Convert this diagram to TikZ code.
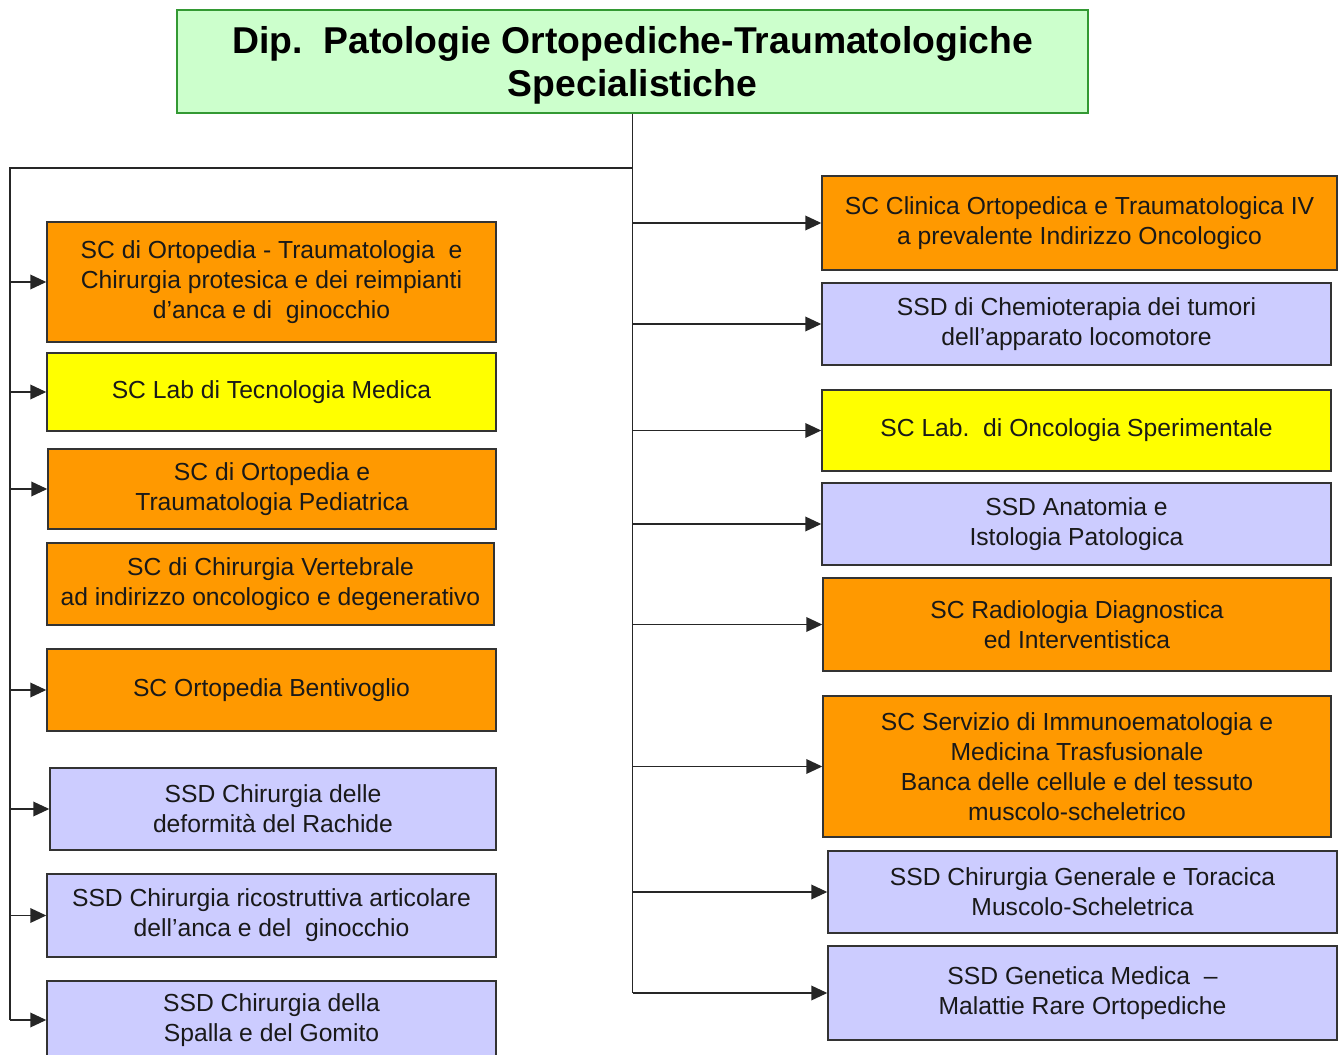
\documentclass[tikz,border=0pt]{standalone}
\usepackage{fontspec}
\setmainfont{Liberation Sans}
\usepackage{xcolor}
\usepackage{tikz}
\usetikzlibrary{arrows.meta}
\definecolor{colHead}{HTML}{CCFFCC}
\definecolor{colHeadLine}{HTML}{339933}
\definecolor{colSC}{HTML}{FF9900}
\definecolor{colLab}{HTML}{FFFF00}
\definecolor{colSSD}{HTML}{CCCCFF}
\newcommand{\px}{0.75pt}

\begin{document}
\begin{tikzpicture}[x=0.75pt, y=-0.75pt,
  head/.style={draw=colHeadLine, line width=1.1pt, fill=colHead, align=center,
               text depth=0pt, font=\bfseries\fontsize{28}{32}\selectfont},
  box/.style={draw=black!80, line width=1.1pt, align=center, inner sep=2pt,
              font=\fontsize{18.5}{22.5}\selectfont, text=black!90},
  sc/.style={box, fill=colSC},
  lab/.style={box, fill=colLab},
  ssd/.style={box, fill=colSSD},
  arr/.style={-{Triangle[length=12pt, width=11pt]}, line width=1.1pt, black!85},
  bus/.style={line width=1.1pt, black!85}
]
  \useasboundingbox (0,0) rectangle (1342,1055);

  \node[head, minimum width=911*\px, minimum height=103*\px] (dip) at (632.5,61.5)
    {Dip.\ \ Patologie Ortopediche-Traumatologiche\\Specialistiche};

  % left column
  \node[sc,  minimum width=449*\px, minimum height=120*\px] (l1) at (271.5,282)
    {SC di Ortopedia - Traumatologia\ \ e\\Chirurgia protesica e dei reimpianti\\d'anca e di\ \ ginocchio};
  \node[lab, minimum width=449*\px, minimum height=78*\px]  (l2) at (271.5,392)
    {SC Lab di Tecnologia Medica};
  \node[sc,  minimum width=448*\px, minimum height=80*\px]  (l3) at (272,489)
    {SC di Ortopedia e\\Traumatologia Pediatrica};
  \node[sc,  minimum width=447*\px, minimum height=82*\px]  (l4) at (270.5,584)
    {SC di Chirurgia Vertebrale\\ad indirizzo oncologico e degenerativo};
  \node[sc,  minimum width=449*\px, minimum height=82*\px]  (l5) at (271.5,690)
    {SC Ortopedia Bentivoglio};
  \node[ssd, minimum width=446*\px, minimum height=82*\px]  (l6) at (273,809)
    {SSD Chirurgia delle\\deformità del Rachide};
  \node[ssd, minimum width=449*\px, minimum height=83*\px]  (l7) at (271.5,915.5)
    {SSD Chirurgia ricostruttiva articolare\\dell'anca e del\ \ ginocchio};
  \node[ssd, minimum width=449*\px, minimum height=78*\px]  (l8) at (271.5,1020)
    {SSD Chirurgia della\\Spalla e del Gomito};

  % right column
  \node[sc,  minimum width=515*\px, minimum height=94*\px]  (r1) at (1079.5,223)
    {SC Clinica Ortopedica e Traumatologica IV\\a prevalente Indirizzo Oncologico};
  \node[ssd, minimum width=509*\px, minimum height=82*\px]  (r2) at (1076.5,324)
    {SSD di Chemioterapia dei tumori\\dell'apparato locomotore};
  \node[lab, minimum width=509*\px, minimum height=81*\px]  (r3) at (1076.5,430.5)
    {SC Lab.\ \ di Oncologia Sperimentale};
  \node[ssd, minimum width=509*\px, minimum height=82*\px]  (r4) at (1076.5,524)
    {SSD Anatomia e\\Istologia Patologica};
  \node[sc,  minimum width=508*\px, minimum height=93*\px]  (r5) at (1077,624.5)
    {SC Radiologia Diagnostica\\ed Interventistica};
  \node[sc,  minimum width=508*\px, minimum height=141*\px] (r6) at (1077,766.5)
    {SC Servizio di Immunoematologia e\\Medicina Trasfusionale\\Banca delle cellule e del tessuto\\muscolo-scheletrico};
  \node[ssd, minimum width=509*\px, minimum height=82*\px]  (r7) at (1082.5,892)
    {SSD Chirurgia Generale e Toracica\\Muscolo-Scheletrica};
  \node[ssd, minimum width=509*\px, minimum height=94*\px]  (r8) at (1082.5,993)
    {SSD Genetica Medica\ \ –\\Malattie Rare Ortopediche};

  % buses
  \coordinate (split) at (632.5,168);
  \coordinate (lbus)  at (10,168);
  \draw[bus] (dip.south) -- (dip.south |- r8.west);
  \draw[bus] (split) -- (lbus) -- (lbus |- l8.west);

  \draw[arr] (lbus |- l1.west) -- (l1.west);
  \draw[arr] (lbus |- l2.west) -- (l2.west);
  \draw[arr] (lbus |- l3.west) -- (l3.west);
  \draw[arr] (lbus |- l5.west) -- (l5.west);
  \draw[arr] (lbus |- l6.west) -- (l6.west);
  \draw[arr] (lbus |- l7.west) -- (l7.west);
  \draw[arr] (lbus |- l8.west) -- (l8.west);

  \draw[arr] (split |- r1.west) -- (r1.west);
  \draw[arr] (split |- r2.west) -- (r2.west);
  \draw[arr] (split |- r3.west) -- (r3.west);
  \draw[arr] (split |- r4.west) -- (r4.west);
  \draw[arr] (split |- r5.west) -- (r5.west);
  \draw[arr] (split |- r6.west) -- (r6.west);
  \draw[arr] (split |- r7.west) -- (r7.west);
  \draw[arr] (split |- r8.west) -- (r8.west);
\end{tikzpicture}
\end{document}
